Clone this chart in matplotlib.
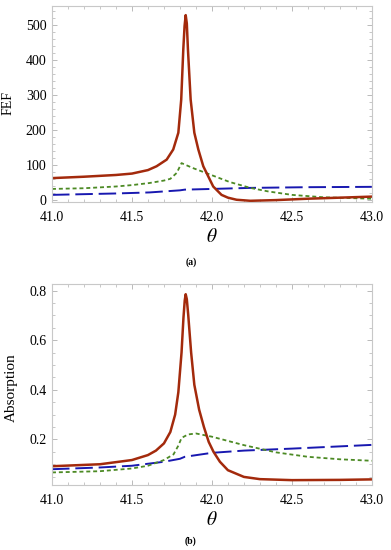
import matplotlib.pyplot as plt
from matplotlib.ticker import MultipleLocator

plt.rcParams['font.family'] = ['Liberation Serif', 'DejaVu Serif']
plt.rcParams['mathtext.fontset'] = 'stix'

# (a) field enhancement factor
theta_red_a = [41.0, 41.2, 41.4, 41.5, 41.6, 41.654, 41.717, 41.758, 41.79, 41.808, 41.821,
               41.829, 41.836, 41.843, 41.85, 41.867, 41.89, 41.915, 41.946, 41.977, 42.008,
               42.06, 42.1, 42.154, 42.24, 42.4, 42.6, 42.8, 43.0]
fef_red = [62, 66, 71, 75, 85, 96, 115, 144, 192, 287, 431,
           498, 529, 505, 431, 287, 192, 144, 96, 67, 38,
           14, 6, 0, -3, -1, 3, 6, 9]
theta_green_a = [41.0, 41.2, 41.4, 41.5, 41.61, 41.7, 41.74, 41.78, 41.81, 41.88, 41.99,
                 42.11, 42.24, 42.35, 42.5, 42.7, 43.0]
fef_green = [31, 33, 38, 42, 48, 55, 60, 77, 105, 91, 72,
             51, 34, 24, 14, 7, 3]
theta_blue_a = [41.0, 41.4, 41.61, 41.8, 41.83, 42.0, 42.24, 42.6, 43.0]
fef_blue = [14, 18, 21, 27, 29, 31, 34, 36, 37]

# (b) absorption
theta_red_b = [41.0, 41.3, 41.5, 41.6, 41.65, 41.7, 41.74, 41.77, 41.79, 41.81, 41.822,
               41.83, 41.836, 41.843, 41.852, 41.87, 41.89, 41.92, 41.95, 41.98, 42.01,
               42.05, 42.1, 42.2, 42.3, 42.5, 42.8, 43.0]
abs_red = [0.092, 0.100, 0.117, 0.137, 0.155, 0.184, 0.23, 0.30, 0.39, 0.55, 0.69,
           0.76, 0.785, 0.765, 0.70, 0.55, 0.42, 0.32, 0.25, 0.19, 0.15,
           0.11, 0.076, 0.049, 0.040, 0.036, 0.037, 0.039]
theta_green_b = [41.0, 41.3, 41.5, 41.6, 41.7, 41.76, 41.79, 41.81, 41.85, 41.9, 42.0, 42.2,
                 42.4, 42.6, 42.8, 43.0]
abs_green = [0.067, 0.072, 0.083, 0.094, 0.117, 0.14, 0.175, 0.206, 0.22, 0.224, 0.211, 0.177,
             0.148, 0.13, 0.12, 0.114]
theta_blue_b = [41.0, 41.3, 41.5, 41.7, 41.8, 41.83, 42.0, 42.2, 42.5, 42.8, 43.0]
abs_blue = [0.080, 0.087, 0.094, 0.110, 0.122, 0.13, 0.146, 0.155, 0.163, 0.172, 0.178]

red, green, blue = '#A32A0C', '#4C8A24', '#1818B0'

fig = plt.figure(figsize=(3.91, 5.5), dpi=100)
ax1 = fig.add_axes([0.133, 0.633, 0.818, 0.356])
ax2 = fig.add_axes([0.133, 0.118, 0.818, 0.366])


def style(ax):
    for s in ax.spines.values():
        s.set_color('#c8c8c8')
        s.set_linewidth(0.8)
    ax.tick_params(which='both', direction='in', top=True, right=True, color='#b0b0b0',
                   labelsize=10)
    ax.tick_params(axis='x', pad=6.5)
    ax.tick_params(axis='y', pad=4)
    ax.tick_params(which='major', length=3.5, width=0.6)
    ax.tick_params(which='minor', length=2, width=0.5)
    ax.set_xlim(41.0, 43.0)
    ax.xaxis.set_minor_locator(MultipleLocator(0.1))
    ax.set_xticks([41.0, 41.5, 42.0, 42.5, 43.0])
    ax.set_xticklabels(['41.0', '41.5', '42.0', '42.5', '43.0'])
    ax.set_xlabel(r'$\theta$', fontsize=14, labelpad=3)


ax1.plot(theta_blue_a, fef_blue, color=blue, lw=1.4, dashes=(9, 3))
ax1.plot(theta_green_a, fef_green, color=green, lw=1.3, dashes=(2.2, 1.6))
ax1.plot(theta_red_a, fef_red, color=red, lw=1.8)
style(ax1)
ax1.set_ylim(-6, 555)
ax1.yaxis.set_major_locator(MultipleLocator(100))
ax1.yaxis.set_minor_locator(MultipleLocator(20))
ax1.set_ylabel('FEF', fontsize=10)
ax1.yaxis.set_label_coords(-0.116, 0.505)
fig.text(0.488, 0.524, '(a)', ha='center', va='center', fontsize=7, fontweight='bold')

ax2.plot(theta_blue_b, abs_blue, color=blue, lw=1.4, dashes=(9, 3))
ax2.plot(theta_green_b, abs_green, color=green, lw=1.3, dashes=(2.2, 1.6))
ax2.plot(theta_red_b, abs_red, color=red, lw=1.8)
style(ax2)
ax2.set_ylim(0.016, 0.827)
ax2.set_yticks([0.2, 0.4, 0.6, 0.8])
ax2.yaxis.set_minor_locator(MultipleLocator(0.05))
ax2.set_ylabel('Absorption', fontsize=11)
ax2.yaxis.set_label_coords(-0.106, 0.483)
fig.text(0.488, 0.016, '(b)', ha='center', va='center', fontsize=7, fontweight='bold')

fig.savefig('out.png', dpi=100)
